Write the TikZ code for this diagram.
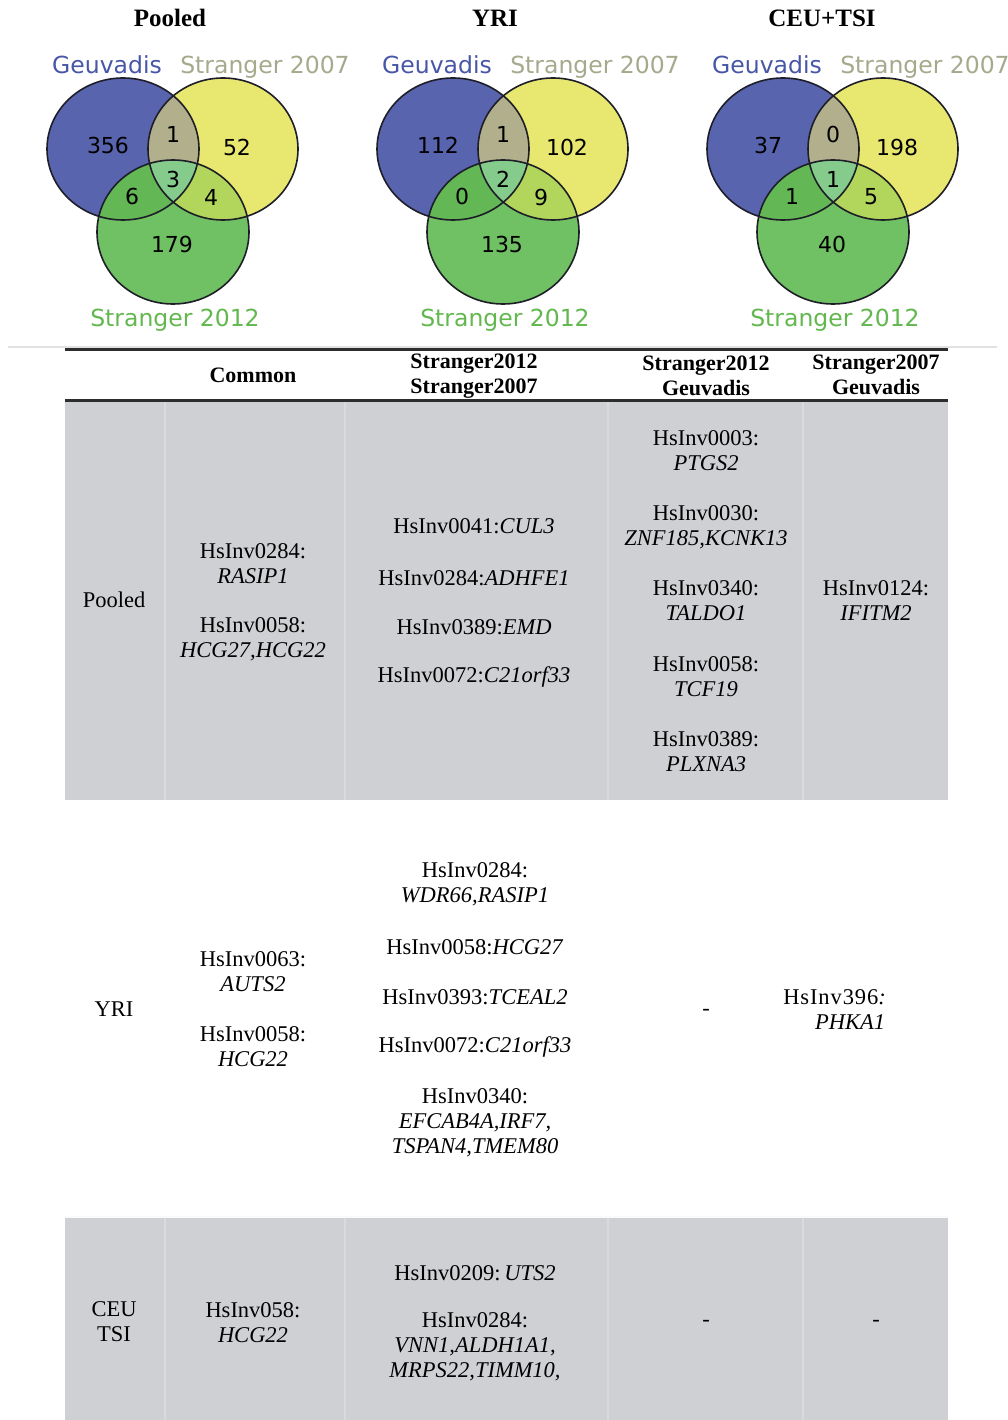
\documentclass[tikz,border=0pt]{standalone}
\usepackage{fontspec}
\setmainfont{Liberation Serif}
\newfontfamily\vennfont{DejaVu Sans}
\usetikzlibrary{calc}

% Venn colours
\definecolor{cB}{RGB}{89,100,175}
\definecolor{cY}{RGB}{232,232,112}
\definecolor{cG}{RGB}{112,192,100}
\definecolor{cBY}{RGB}{178,176,140}
\definecolor{cBG}{RGB}{100,183,85}
\definecolor{cYG}{RGB}{178,214,92}
\definecolor{cBYG}{RGB}{133,204,140}
\definecolor{labB}{RGB}{72,86,168}
\definecolor{labY}{RGB}{165,170,140}
\definecolor{labG}{RGB}{98,184,78}
\definecolor{vline}{RGB}{30,30,40}
% table colours
\definecolor{rowgray}{RGB}{207,208,211}
\definecolor{sepgray}{RGB}{217,218,220}
\definecolor{rulegray}{RGB}{45,45,45}
\definecolor{faint}{RGB}{226,226,226}

% the three sets of one diagram
\def\EB{(123,149) ellipse [x radius=76pt, y radius=71pt]}
\def\EY{(223,149) ellipse [x radius=75pt, y radius=71pt]}
\def\EG{(173,232) ellipse [x radius=76pt, y radius=72pt]}

\tikzset{
  title/.style={font=\fontsize{25}{28}\selectfont\bfseries, inner sep=0pt},
  setlabel/.style={font=\vennfont\fontsize{23.5}{27}\selectfont, inner sep=0pt, anchor=base},
  count/.style={font=\vennfont\fontsize{22}{25}\selectfont, inner sep=0pt},
  outline/.style={vline, line width=1.6pt},
  head/.style={font=\fontsize{22}{25}\selectfont\bfseries, align=center, inner sep=0pt},
  cell/.style={font=\fontsize{22.5}{25}\selectfont, align=center, inner sep=0pt},
}

\begin{document}
\begin{tikzpicture}[x=1pt,y=-1pt]
\useasboundingbox[fill=white] (0,0) rectangle (1007,1420);

% ---------- Venn diagrams ----------
\foreach \o/\tx/\ti/\na/\nb/\nc/\nd/\ne/\nf/\ng [count=\k] in
  {0/170/Pooled/356/1/52/3/6/4/179,
   330/165/YRI/112/1/102/2/0/9/135,
   660/162/CEU+TSI/37/0/198/1/1/5/40}{
  \begin{scope}[xshift=\o pt]
    \fill[cB] \EB;
    \fill[cY] \EY;
    \fill[cG] \EG;
    \begin{scope}\clip \EB; \fill[cBY] \EY; \end{scope}
    \begin{scope}\clip \EB; \fill[cBG] \EG; \end{scope}
    \begin{scope}\clip \EY; \fill[cYG] \EG; \end{scope}
    \begin{scope}\clip \EB; \clip \EY; \fill[cBYG] \EG; \end{scope}
    \draw[outline] \EB;
    \draw[outline] \EY;
    \draw[outline] \EG;

    \node[title] (title\k) at (\tx,18) {\ti};
    \node[setlabel, text=labB] (geu\k) at (107,74) {Geuvadis};
    \node[setlabel, text=labY] (str07\k) at (265,74) {Stranger 2007};
    \node[setlabel, text=labG] (str12\k) at (175,326) {Stranger 2012};

    \node[count] (nB\k)   at (108,145) {\na};
    \node[count] (nBY\k)  at (173,134) {\nb};
    \node[count] (nY\k)   at (237,147) {\nc};
    \node[count] (nBYG\k) at (173,179) {\nd};
    \node[count] (nBG\k)  at (132,196) {\ne};
    \node[count] (nYG\k)  at (211,197) {\nf};
    \node[count] (nG\k)   at (172,244) {\ng};
  \end{scope}
}

% faint separator under the diagrams
\draw[faint, line width=2pt] (8,347) -- (997,347);

% ---------- table backgrounds ----------
\fill[rowgray] (65,402) rectangle (948,800);
\fill[rowgray] (65,1217) rectangle (948,1420);
\draw[white!90!rowgray, line width=1.5pt] (65,1217) -- (948,1217);
\foreach \c in {165,345,608,803}{
  \draw[sepgray, line width=2pt] (\c,402) -- (\c,800);
  \draw[sepgray, line width=2pt] (\c,1218) -- (\c,1420);
}

% rules
\draw[rulegray, line width=3pt] (65,349.5) -- (948,349.5);
\draw[rulegray, line width=3pt] (65,400.5) -- (948,400.5);

% ---------- header ----------
\node[head] (hCommon) at (253,375) {Common};
\node[head] (hSS)  at (474,376) {Stranger2012\\Stranger2007};
\node[head] (hSG)  at (706,376) {Stranger2012\\Geuvadis};
\node[head] (hS7G) at (876,375) {Stranger2007\\Geuvadis};

% ---------- Pooled row ----------
\node[cell] (pPop) at (114,600) {Pooled};
\node[cell] (pC1) at (253,564) {HsInv0284:\\\textit{RASIP1}};
\node[cell] (pC2) at (253,639) {HsInv0058:\\\textit{HCG27,HCG22}};
\node[cell] (pS1) at (474,526) {HsInv0041:\textit{CUL3}};
\node[cell] (pS2) at (474,578) {HsInv0284:\textit{ADHFE1}};
\node[cell] (pS3) at (474,627) {HsInv0389:\textit{EMD}};
\node[cell] (pS4) at (474,677) {HsInv0072:\textit{C21orf33}};
\node[cell] (pG1) at (706,451) {HsInv0003:\\\textit{PTGS2}};
\node[cell] (pG2) at (706,527) {HsInv0030:\\\textit{ZNF185,KCNK13}};
\node[cell] (pG3) at (706,601) {HsInv0340:\\\textit{TALDO1}};
\node[cell] (pG4) at (706,677) {HsInv0058:\\\textit{TCF19}};
\node[cell] (pG5) at (706,752) {HsInv0389:\\\textit{PLXNA3}};
\node[cell] (pH1) at (876,601) {HsInv0124:\\\textit{IFITM2}};

% ---------- YRI row ----------
\node[cell] (yPop) at (114,1009) {YRI};
\node[cell] (yC1) at (253,972) {HsInv0063:\\\textit{AUTS2}};
\node[cell] (yC2) at (253,1047) {HsInv0058:\\\textit{HCG22}};
\node[cell] (yS1) at (475,884) {HsInv0284:\\\textit{WDR66,RASIP1}};
\node[cell] (yS2) at (475,947) {HsInv0058:\textit{HCG27}};
\node[cell] (yS3) at (475,997) {HsInv0393:\textit{TCEAL2}};
\node[cell] (yS4) at (475,1047) {HsInv0072:\textit{C21orf33}};
\node[cell] (yS5) at (475,1123) {HsInv0340:\\\textit{EFCAB4A,IRF7,}\\\textit{TSPAN4,TMEM80}};
\node[cell] (yG1) at (706,1012) {-};
\node[cell] (yH1) at (835,997) {\addfontfeature{LetterSpace=4}HsInv396\textit{:}};
\node[cell] (yH2) at (850,1022) {\textit{PHKA1}};

% ---------- CEU / TSI row ----------
\node[cell] (cPop) at (114,1322) {CEU\\TSI};
\node[cell] (cC1) at (253,1323) {HsInv058:\\\textit{HCG22}};
\node[cell] (cS1) at (475,1273) {HsInv0209:\,\textit{UTS2}};
\node[cell] (cS2) at (475,1347) {HsInv0284:\\\textit{VNN1,ALDH1A1,}\\\textit{MRPS22,TIMM10,}};
\node[cell] (cG1) at (706,1323) {-};
\node[cell] (cH1) at (876,1323) {-};
\end{tikzpicture}
\end{document}
